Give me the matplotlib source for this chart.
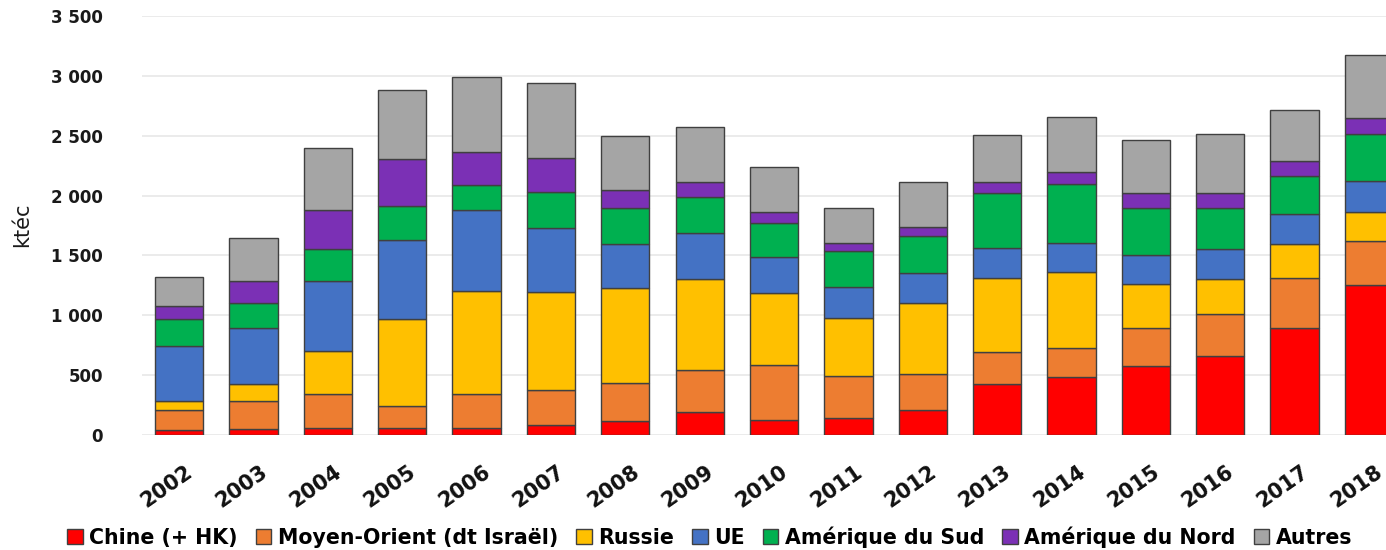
import matplotlib
matplotlib.use("Agg")
import matplotlib.pyplot as plt
import matplotlib.transforms as mtransforms
import numpy as np

years = ["2002", "2003", "2004", "2005", "2006", "2007", "2008", "2009", "2010",
         "2011", "2012", "2013", "2014", "2015", "2016", "2017", "2018"]

series_names = ["Chine (+ HK)", "Moyen-Orient (dt Israël)", "Russie", "UE",
                "Amérique du Sud", "Amérique du Nord", "Autres"]

chine = [40, 50, 55, 55, 60, 80, 120, 190, 125, 145, 210, 430, 485, 575, 660, 895, 1250]
moyen_orient = [170, 230, 285, 190, 280, 295, 315, 350, 460, 350, 300, 260, 240, 320, 350, 420, 370]
russie = [75, 145, 365, 720, 865, 820, 795, 765, 605, 485, 590, 620, 635, 370, 290, 280, 240]
ue = [460, 470, 580, 660, 675, 535, 365, 380, 295, 260, 255, 255, 240, 240, 255, 250, 260]
amerique_sud = [220, 205, 265, 285, 205, 300, 305, 305, 290, 295, 305, 455, 500, 390, 340, 320, 395]
amerique_nord = [110, 185, 330, 395, 280, 285, 150, 125, 85, 65, 80, 90, 100, 125, 130, 120, 130]
autres = [245, 360, 515, 575, 625, 625, 450, 460, 375, 295, 370, 400, 460, 445, 490, 430, 530]

colors = ["#FF0000", "#ED7D31", "#FFC000", "#4472C4", "#00B050", "#7B30B5", "#A5A5A5"]

data = [chine, moyen_orient, russie, ue, amerique_sud, amerique_nord, autres]

fig = plt.figure(figsize=(13.86, 5.5), dpi=100)
ax = fig.add_axes([142 / 1386, 115 / 550, 1 - 142 / 1386, (435 - 16) / 550])

x = np.arange(len(years))
bottom = np.zeros(len(years))
for name, vals, col in zip(series_names, data, colors):
    ax.bar(x, vals, width=0.65, bottom=bottom, color=col, edgecolor="#404040",
           linewidth=1.0, label=name, zorder=3)
    bottom += np.array(vals)

ax.set_xlim(-0.5, 16.23)
ax.set_ylim(0, 3500)
ax.set_yticks(np.arange(0, 3501, 500))
ax.set_yticklabels([f"{v:,}".replace(",", " ") for v in range(0, 3501, 500)],
                   fontsize=12, fontweight="bold", color="#1a1a1a")
ax.grid(axis="y", color="#E8E8E8", linewidth=1.2, zorder=0)
for s in ax.spines.values():
    s.set_visible(False)
ax.tick_params(axis="y", length=0, pad=28)
ax.tick_params(axis="x", length=0, pad=19)

ax.set_xticks(x)
ax.set_xticklabels(years, rotation=35, ha="right", va="top", rotation_mode="anchor",
                   fontsize=15, fontweight="bold", color="#111111")
shift = mtransforms.ScaledTranslation(6 / 100, 0, fig.dpi_scale_trans)
for lbl in ax.get_xticklabels():
    lbl.set_transform(lbl.get_transform() + shift)

fig.text(22 / 1386, 1 - 225 / 550, "ktéc", rotation=90, ha="center", va="center",
         fontsize=15, color="#1a1a1a")

fig.legend(loc="center", bbox_to_anchor=(0.512, 1 - 537 / 550), ncol=7,
           frameon=False, handlelength=0.75, handleheight=0.75,
           handletextpad=0.3, columnspacing=0.9,
           prop={"weight": "bold", "size": 14.8})

fig.savefig("out.png", dpi=100)
